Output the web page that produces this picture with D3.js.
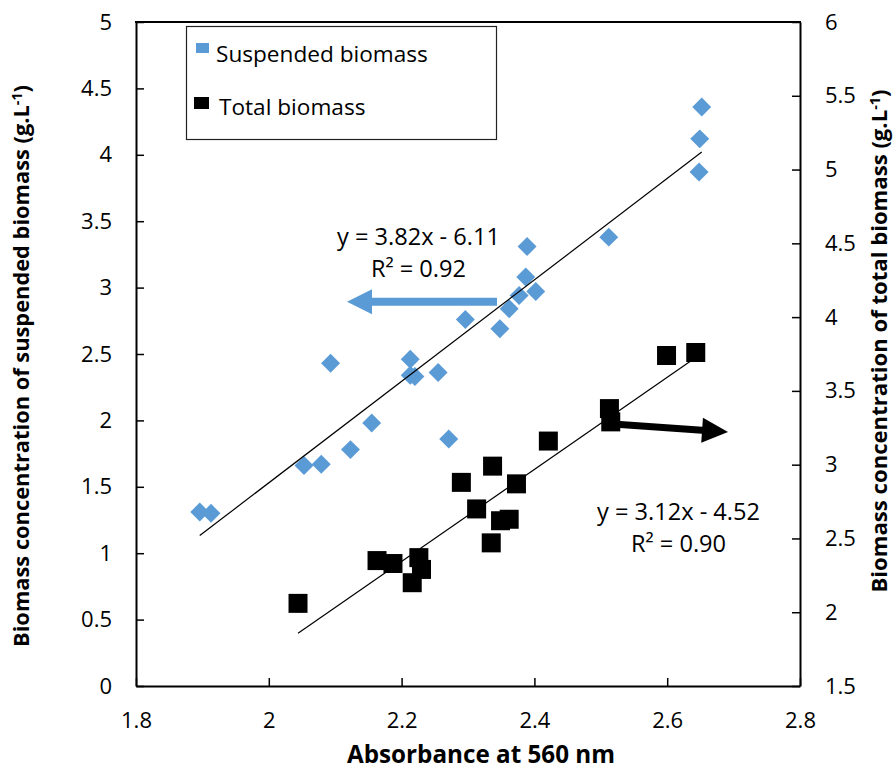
<!DOCTYPE html>
<html>
<head>
<meta charset="utf-8">
<script src="https://cdn.jsdelivr.net/npm/d3@7"></script>
<style>
  html, body { margin: 0; padding: 0; background: #fff; }
  svg { display: block; font-family: "Open Sans", "DejaVu Sans", sans-serif; }
</style>
</head>
<body>
<svg id="chart" width="895" height="771"></svg>
<script>
// Absorbance at 560 nm vs. biomass concentration
const suspendedX = [1.896, 1.913, 2.053, 2.079, 2.093, 2.123, 2.155, 2.213, 2.213, 2.220, 2.255, 2.271,
                    2.296, 2.348, 2.362, 2.377, 2.387, 2.389, 2.402, 2.512, 2.648, 2.649, 2.652];
const suspendedY = [1.31, 1.30, 1.66, 1.67, 2.43, 1.78, 1.98, 2.46, 2.34, 2.33, 2.36, 1.86,
                    2.76, 2.69, 2.84, 2.94, 3.08, 3.31, 2.97, 3.38, 3.87, 4.12, 4.36];

const totalX = [2.044, 2.163, 2.187, 2.216, 2.226, 2.230, 2.290, 2.313, 2.335, 2.337, 2.349, 2.362,
                2.373, 2.421, 2.513, 2.515, 2.599, 2.643];
const totalY = [2.06, 2.35, 2.33, 2.20, 2.37, 2.29, 2.88, 2.70, 2.47, 2.99, 2.62, 2.63,
                2.87, 3.16, 3.38, 3.29, 3.74, 3.76];

// Linear fits: [slope, intercept, R²]
const suspendedFit = [3.82, -6.11, 0.92];
const totalFit = [3.12, -4.52, 0.90];

const xTicks = [1.8, 2, 2.2, 2.4, 2.6, 2.8];
const leftTicks = [0, 0.5, 1, 1.5, 2, 2.5, 3, 3.5, 4, 4.5, 5];
const rightTicks = [1.5, 2, 2.5, 3, 3.5, 4, 4.5, 5, 5.5, 6];

const seriesNames = ["Suspended biomass", "Total biomass"];
const BLUE = "#5B9BD5";

const svg = d3.select("#chart");
const L = 136, R = 800, T = 22, B = 686;

const x = d3.scaleLinear().domain([1.8, 2.8]).range([L, R]);
const yL = d3.scaleLinear().domain([0, 5]).range([B, T]);
const yR = d3.scaleLinear().domain([1.5, 6]).range([B, T]);

const fmt = d => String(d);

// font size at which a text spans the given width
function sizeFor(txt, width, weight) {
  const t = svg.append("text").attr("font-size", 20).attr("font-weight", weight || "normal").text(txt);
  const w = t.node().getComputedTextLength();
  t.remove();
  return +(20 * width / w).toFixed(2);
}

// axes (ticks point inward)
const gx = svg.append("g").attr("transform", `translate(0,${B})`)
  .call(d3.axisBottom(x).tickValues(xTicks).tickFormat(fmt).tickSizeInner(-8).tickSizeOuter(0));
gx.selectAll("text").attr("y", 42).attr("dy", null);

const gl = svg.append("g").attr("transform", `translate(${L},0)`)
  .call(d3.axisLeft(yL).tickValues(leftTicks).tickFormat(fmt).tickSizeInner(-8).tickSizeOuter(0).tickPadding(24));

const gr = svg.append("g").attr("transform", `translate(${R},0)`)
  .call(d3.axisRight(yR).tickValues(rightTicks).tickFormat(fmt).tickSizeInner(-8).tickSizeOuter(0).tickPadding(25));

[gx, gl, gr].forEach(g => {
  g.select(".domain").attr("stroke", "#000").attr("stroke-width", 2);
  g.selectAll(".tick line").attr("stroke", "#000").attr("stroke-width", 1.5);
  g.selectAll("text").attr("font-size", 22).attr("fill", "#000")
    .attr("font-family", "'Open Sans', sans-serif");
});

svg.append("line").attr("x1", L - 1).attr("x2", R + 1).attr("y1", T).attr("y2", T)
  .attr("stroke", "#000").attr("stroke-width", 2);

// trend lines
function trend(xs, fit, yScale) {
  const x0 = d3.min(xs), x1 = d3.max(xs);
  svg.append("line")
    .attr("x1", x(x0)).attr("y1", yScale(fit[0] * x0 + fit[1]))
    .attr("x2", x(x1)).attr("y2", yScale(fit[0] * x1 + fit[1]))
    .attr("stroke", "#000").attr("stroke-width", 1.2);
}

// markers
const diamond = d3.symbol().type(d3.symbolSquare).size(180);
const square = d3.symbol().type(d3.symbolSquare).size(361);

svg.append("g").selectAll("path").data(totalX.map((v, i) => [v, totalY[i]])).join("path")
  .attr("d", square)
  .attr("transform", d => `translate(${x(d[0])},${yR(d[1])})`)
  .attr("fill", "#000");

svg.append("g").selectAll("path").data(suspendedX.map((v, i) => [v, suspendedY[i]])).join("path")
  .attr("d", diamond)
  .attr("transform", d => `translate(${x(d[0])},${yL(d[1])}) rotate(45)`)
  .attr("fill", BLUE);

trend(suspendedX, suspendedFit, yL);
trend(totalX, totalFit, yR);

// arrow pointing from the series to its axis
function arrow(x0, y0, x1, y1, shaft, headLen, headW, color) {
  const dx = x1 - x0, dy = y1 - y0, len = Math.hypot(dx, dy);
  const ux = dx / len, uy = dy / len, nx = -uy, ny = ux;
  const bx = x1 - ux * headLen, by = y1 - uy * headLen;
  const pts = [
    [x0 + nx * shaft / 2, y0 + ny * shaft / 2],
    [bx + nx * shaft / 2, by + ny * shaft / 2],
    [bx + nx * headW / 2, by + ny * headW / 2],
    [x1, y1],
    [bx - nx * headW / 2, by - ny * headW / 2],
    [bx - nx * shaft / 2, by - ny * shaft / 2],
    [x0 - nx * shaft / 2, y0 - ny * shaft / 2]
  ];
  svg.append("polygon").attr("points", pts.map(p => p.join(",")).join(" ")).attr("fill", color);
}
arrow(x(2.3437), yL(2.894), x(2.1178), yL(2.894), 8, 25, 25, BLUE);
arrow(x(2.5184), yR(3.2755), x(2.6916), yR(3.2213), 7, 26, 25, "#000");

// regression equations
function eqText(f) {
  const sign = f[1] < 0 ? "-" : "+";
  return `y = ${f[0].toFixed(2)}x ${sign} ${Math.abs(f[1]).toFixed(2)}`;
}
function r2Text(f) { return `R² = ${f[2].toFixed(2)}`; }

const eqSize = sizeFor(eqText(suspendedFit), 163);
function label(txt, cx, baseline) {
  svg.append("text").attr("x", cx).attr("y", baseline)
    .attr("text-anchor", "middle").attr("font-size", eqSize).attr("fill", "#000").text(txt);
}
label(eqText(suspendedFit), x(2.2254), yL(3.32));
label(r2Text(suspendedFit), x(2.2254), yL(3.08));
label(eqText(totalFit), x(2.617), yR(2.625));
label(r2Text(totalFit), x(2.617), yR(2.408));

// legend
const legSize = sizeFor(seriesNames[0], 212);
const lg = svg.append("g");
lg.append("rect").attr("x", 186.5).attr("y", 26.5).attr("width", 310).attr("height", 113)
  .attr("fill", "#fff").attr("stroke", "#222").attr("stroke-width", 1.2);
lg.append("rect").attr("x", 196).attr("y", 43).attr("width", 13).attr("height", 10).attr("fill", BLUE);
lg.append("rect").attr("x", 194).attr("y", 97).attr("width", 15).attr("height", 12).attr("fill", "#000");
lg.append("text").attr("x", 216).attr("y", 62).attr("font-size", legSize).attr("fill", "#000").text(seriesNames[0]);
lg.append("text").attr("x", 219).attr("y", 115).attr("font-size", legSize).attr("fill", "#000").text(seriesNames[1]);

// axis titles
svg.append("text").attr("x", 481).attr("y", 763).attr("text-anchor", "middle")
  .attr("font-size", sizeFor("Absorbance at 560 nm", 268, "bold")).attr("font-weight", "bold").attr("fill", "#000")
  .text("Absorbance at 560 nm");

function yTitle(cx, cy, main, width) {
  const t = svg.append("text").attr("transform", `translate(${cx},${cy}) rotate(-90)`)
    .attr("text-anchor", "middle").attr("font-size", 20).attr("font-weight", "bold").attr("fill", "#000");
  t.append("tspan").text(main + " (g.L");
  t.append("tspan").attr("dy", "-0.5em").attr("font-size", "0.65em").text("-1");
  t.append("tspan").attr("dy", "0.32em").text(")");
  const w = t.node().getComputedTextLength();
  t.attr("font-size", (20 * width / w).toFixed(2));
}
yTitle(29, 366, "Biomass concentration of suspended biomass", 562);
yTitle(887, 341, "Biomass concentration of total biomass", 503);
</script>
</body>
</html>
